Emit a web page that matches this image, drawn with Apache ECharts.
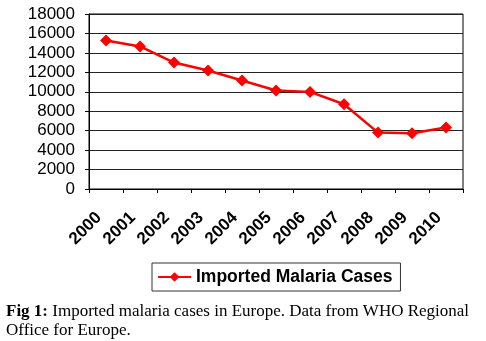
<!DOCTYPE html>
<html>
<head>
<meta charset="utf-8">
<script src="https://cdn.jsdelivr.net/npm/echarts@6/dist/echarts.min.js"></script>
<style>
  html, body { margin: 0; padding: 0; background: #fff; }
  #chart { width: 486px; height: 341px; }
</style>
</head>
<body>
<div id="chart"></div>
<script>
// Imported malaria cases reported in the WHO European Region, 2000-2010
const years = ['2000', '2001', '2002', '2003', '2004', '2005', '2006', '2007', '2008', '2009', '2010'];
const importedCases = [15280, 14660, 13010, 12190, 11160, 10130, 9990, 8720, 5800, 5740, 6320];
const seriesName = 'Imported Malaria Cases';
const yTicks = { min: 0, max: 18000, interval: 2000 };
const captionBold = 'Fig 1:';
const captionLine1 = ' Imported malaria cases in Europe. Data from WHO Regional';
const captionLine2 = 'Office for Europe.';

const chart = echarts.init(document.getElementById('chart'), null, { renderer: 'canvas' });

chart.setOption({
  animation: false,
  backgroundColor: '#ffffff',
  grid: { left: 89, right: 23, top: 14, bottom: 152, show: true, borderColor: '#000', borderWidth: 1 },
  xAxis: {
    type: 'category',
    data: years,
    boundaryGap: true,
    axisLine: { lineStyle: { color: '#000', width: 1 } },
    axisTick: { show: true, length: 4, lineStyle: { color: '#000' } },
    axisLabel: {
      rotate: 45,
      margin: 19,
      padding: [0, 10, 0, 0],
      color: '#000',
      fontFamily: 'Liberation Sans, Arial, sans-serif',
      fontWeight: 'bold',
      fontSize: 17
    }
  },
  yAxis: {
    type: 'value',
    min: yTicks.min,
    max: yTicks.max,
    interval: yTicks.interval,
    axisLine: { show: true, lineStyle: { color: '#000', width: 1 } },
    axisTick: { show: true, length: 4, lineStyle: { color: '#000' } },
    splitLine: { lineStyle: { color: '#222', width: 1 } },
    axisLabel: {
      margin: 14,
      color: '#000',
      fontFamily: 'Liberation Sans, Arial, sans-serif',
      fontSize: 17,
      formatter: function (v) { return String(v); }
    }
  },
  legend: {
    show: true,
    left: 152,
    top: 263,
    width: 249,
    height: 28,
    padding: [5, 8, 5, 5],
    itemWidth: 33,
    itemHeight: 12,
    itemGap: 0,
    borderColor: '#333',
    borderWidth: 1,
    textStyle: {
      color: '#000',
      fontFamily: 'Liberation Sans, Arial, sans-serif',
      fontWeight: 'bold',
      fontSize: 17.5
    },
    data: [seriesName]
  },
  series: [{
    name: seriesName,
    type: 'line',
    data: importedCases,
    symbol: 'diamond',
    symbolSize: 12,
    itemStyle: { color: '#ff0000' },
    lineStyle: { color: '#ff0000', width: 2.5 }
  }],
  graphic: [{
    type: 'text',
    left: 6,
    top: 302,
    style: {
      text: '{b|' + captionBold + '}' + captionLine1 + '\n' + captionLine2,
      fontFamily: 'Liberation Serif, Times New Roman, serif',
      fontSize: 17,
      lineHeight: 19,
      fill: '#000',
      rich: {
        b: { fontWeight: 'bold', fontFamily: 'Liberation Serif, Times New Roman, serif', fontSize: 17, lineHeight: 19 }
      }
    }
  }]
});
</script>
</body>
</html>
